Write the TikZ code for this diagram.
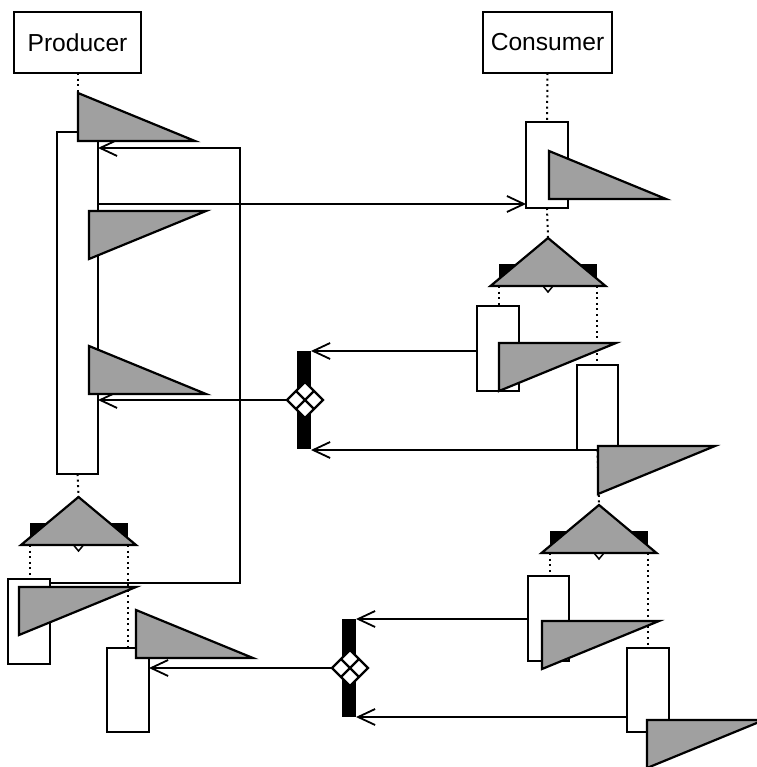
\documentclass[tikz,border=0pt]{standalone}
\usepackage{fontspec}
\setmainfont{Liberation Sans}
\usetikzlibrary{arrows.meta,shapes.geometric,calc}
\definecolor{wedgegray}{RGB}{160,160,160}
\tikzset{
  obj/.style={draw, line width=2pt, fill=white, inner sep=0pt, outer sep=0pt,
    minimum height=61pt, font=\fontsize{24.6}{28}\selectfont},
  act/.style={draw, line width=2pt, fill=white, inner sep=0pt, outer sep=0pt,
    minimum width=42pt, minimum height=85pt},
  life/.style={line width=2pt, dash pattern=on 2pt off 3.6pt},
  msg/.style={line width=1.8pt, -{Straight Barb[length=17pt,width=16pt]}},
  wedge/.style={draw, line width=2.2pt, fill=wedgegray},
  bar/.style={fill=black, inner sep=0pt, outer sep=0pt},
  joinmark/.style={diamond, aspect=1, draw, line width=2.2pt, fill=white,
    inner sep=0pt, outer sep=0pt, minimum width=36pt, minimum height=36pt},
  % grey wedges: origin at the top-left vertex
  pics/wedgeup/.style={code={\path[wedge] (0,0) -- (0,48) -- (117,48) -- cycle;}},
  pics/wedgedown/.style={code={\path[wedge] (0,0) -- (117,0) -- (0,48) -- cycle;}},
  % fork symbol: origin at the apex
  pics/fork/.style={code={
    \coordinate (-top) at (0,0);
    \node[bar, minimum width=98pt, minimum height=22pt] (-bar) at (0,37) {};
    \path[draw, line width=1.5pt, fill=white] (0,42) -- (5,48) -- (0,54) -- (-5,48) -- cycle;
    \path[wedge] (0,0) -- (-57.5,48) -- (57.5,48) -- cycle;}},
}
\newcommand{\joinlines}[1]{%
  \draw[line width=2.2pt] ($(#1.north)!0.5!(#1.east)$) -- ($(#1.south)!0.5!(#1.west)$);
  \draw[line width=2.2pt] ($(#1.north)!0.5!(#1.west)$) -- ($(#1.south)!0.5!(#1.east)$);}
\begin{document}
\begin{tikzpicture}[x=1pt, y=-1pt]
\useasboundingbox (0,0) rectangle (756,767);

% objects
\node[obj, minimum width=127pt] (prod) at (77.5,42.5) {Producer};
\node[obj, minimum width=129pt] (cons) at (547.5,42.5) {Consumer};

% activations
\node[act, minimum width=41pt, minimum height=342pt] (p1) at (77.5,303) {};
\node[act, minimum height=86pt] (c1) at (547,165) {};
\node[act] (c2) at (498,348.5) {};
\node[act, minimum width=41pt] (c3) at (597.5,407.5) {};
\node[act] (p2) at (29,621.5) {};
\node[act, minimum height=84pt] (p3) at (128,690) {};
\node[act, minimum width=41pt] (c4) at (548.5,618.5) {};
\node[act, minimum height=84pt] (c5) at (648,690) {};

% forks
\pic (f1) at (548,238) {fork};
\pic (f2) at (78.5,497) {fork};
\pic (f3) at (599,505) {fork};

% joins
\node[bar, minimum width=14pt, minimum height=98pt] (j1) at (304,400) {};
\node[joinmark] (d1) at (305,400) {};
\joinlines{d1}
\node[bar, minimum width=14pt, minimum height=98pt] (j2) at (349,668) {};
\node[joinmark] (d2) at (350,668) {};
\joinlines{d2}

% lifelines
\draw[life] (prod.south) -- (p1.north);
\draw[life] (cons.south) -- (c1.north);
\draw[life] (c1.south) -- (f1-top);
\draw[life] (p1.south) -- (f2-top);
\draw[life] (c3.south) -- (f3-top);
\draw[life] (f1-bar.south west) -- (f1-bar.south west |- c2.north);
\draw[life] (f1-bar.south east) -- (f1-bar.south east |- c3.north);
\draw[life] (f2-bar.south west) -- (f2-bar.south west |- p2.north);
\draw[life] (f2-bar.south east) -- (f2-bar.south east |- p3.north);
\draw[life] (f3-bar.south west) -- (f3-bar.south west |- c4.north);
\draw[life] (f3-bar.south east) -- (f3-bar.south east |- c5.north);

% messages
\draw[msg] ([yshift=-4pt]p2.north east) -| (240,148) -- (p1.east |- 0,148);
\draw[msg] (p1.east |- 0,204) -- (c1.west |- 0,204);
\draw[msg] (c2.west |- j1.north) -- (j1.north east);
\draw[msg] (c3.south west) -- (c3.south west -| j1.east);
\draw[msg] (d1.west) -- (d1.west -| p1.east);
\draw[msg] (c4.west |- j2.north) -- (j2.north east);
\draw[msg] (c5.west |- j2.south) -- (j2.south east);
\draw[msg] (d2.west) -- (d2.west -| p3.east);

% grey wedges
\pic at (78,93) {wedgeup};
\pic at (89,211) {wedgedown};
\pic at (89,346) {wedgeup};
\pic at (549,151) {wedgeup};
\pic at (499,343) {wedgedown};
\pic at (598,446) {wedgedown};
\pic at (19,587) {wedgedown};
\pic at (136,610) {wedgeup};
\pic at (542,621) {wedgedown};
\pic at (647,720) {wedgedown};
\end{tikzpicture}
\end{document}
